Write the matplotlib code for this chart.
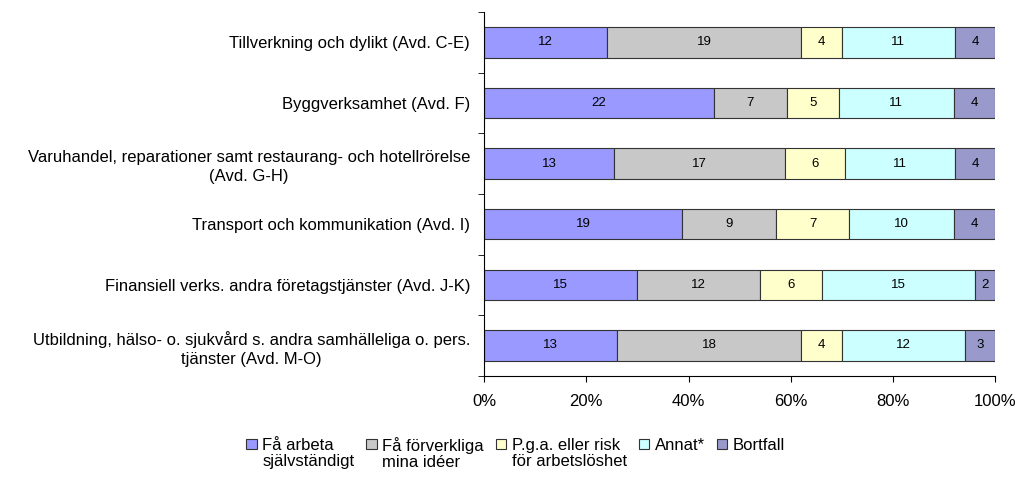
import matplotlib.pyplot as plt
import numpy as np
from matplotlib.patches import Rectangle
from matplotlib.container import BarContainer
from matplotlib.legend_handler import HandlerPatch

plt.rcParams['font.family'] = ['Liberation Sans', 'DejaVu Sans']

categories = [
    'Tillverkning och dylikt (Avd. C-E)',
    'Byggverksamhet (Avd. F)',
    'Varuhandel, reparationer samt restaurang- och hotellrörelse\n(Avd. G-H)',
    'Transport och kommunikation (Avd. I)',
    'Finansiell verks. andra företagstjänster (Avd. J-K)',
    'Utbildning, hälso- o. sjukvård s. andra samhälleliga o. pers.\ntjänster (Avd. M-O)',
]
series_names = [
    'Få arbeta\nsjälvständigt',
    'Få förverkliga\nmina idéer',
    'P.g.a. eller risk\nför arbetslöshet',
    'Annat*\n ',
    'Bortfall\n ',
]
fa_arbeta = [12, 22, 13, 19, 15, 13]
forverkliga = [19, 7, 17, 9, 12, 18]
arbetsloshet = [4, 5, 6, 7, 6, 4]
annat = [11, 11, 11, 10, 15, 12]
bortfall = [4, 4, 4, 4, 2, 3]
colors = ['#9999FF', '#C8C8C8', '#FFFFCC', '#CCFFFF', '#9999CC']

counts = np.array([fa_arbeta, forverkliga, arbetsloshet, annat, bortfall], dtype=float)
shares = counts / counts.sum(axis=0) * 100

fig = plt.figure(figsize=(10.21, 4.83), dpi=100)
ax = fig.add_axes([0.474, 0.222, 0.501, 0.753])

y = np.arange(len(categories))
left = np.zeros(len(categories))
handles = []
for i, name in enumerate(series_names):
    bars = ax.barh(y, shares[i], left=left, height=0.5, color=colors[i],
                   edgecolor='#333333', linewidth=0.8, label=name)
    handles.append(bars)
    for j in range(len(categories)):
        ax.text(left[j] + shares[i][j] / 2, y[j], f'{int(counts[i][j])}',
                ha='center', va='center', fontsize=9.5)
    left += shares[i]

ax.set_xlim(0, 100)
ax.set_ylim(len(categories) - 0.5, -0.5)
ax.set_xticks(np.arange(0, 101, 20))
ax.set_xticklabels([f'{v}%' for v in range(0, 101, 20)], fontsize=12)
ax.set_yticks(y)
ax.set_yticklabels(categories, fontsize=12, multialignment='center', linespacing=1.3)
ax.set_yticks(np.arange(-0.5, len(categories), 1), minor=True)
ax.tick_params(axis='y', which='major', length=0, pad=10)
ax.tick_params(axis='y', which='minor', length=4, direction='out')
ax.tick_params(axis='x', length=4, direction='out', pad=9)
ax.spines['top'].set_visible(False)
ax.spines['right'].set_visible(False)


# legend square next to the first line of a two-line label
def top_square(legend, orig_handle, xdescent, ydescent, width, height, fontsize):
    s = 0.62 * fontsize
    return Rectangle((-xdescent, 0.6 * fontsize), s, s)


def first_bar(legend_handle, orig_handle):
    legend_handle.update_from(orig_handle[0])


leg = fig.legend(handles=handles, loc='upper center', bbox_to_anchor=(0.505, 0.127),
                 ncol=5, frameon=False, fontsize=12, handlelength=0.62, handleheight=0.7,
                 handletextpad=0.35, columnspacing=0.7,
                 handler_map={BarContainer: HandlerPatch(patch_func=top_square,
                                                         update_func=first_bar)})
for t in leg.get_texts():
    t.set_linespacing(1.1)
for h in leg.legend_handles:
    h.set_linewidth(0.8)

fig.savefig('out.png', dpi=100)
